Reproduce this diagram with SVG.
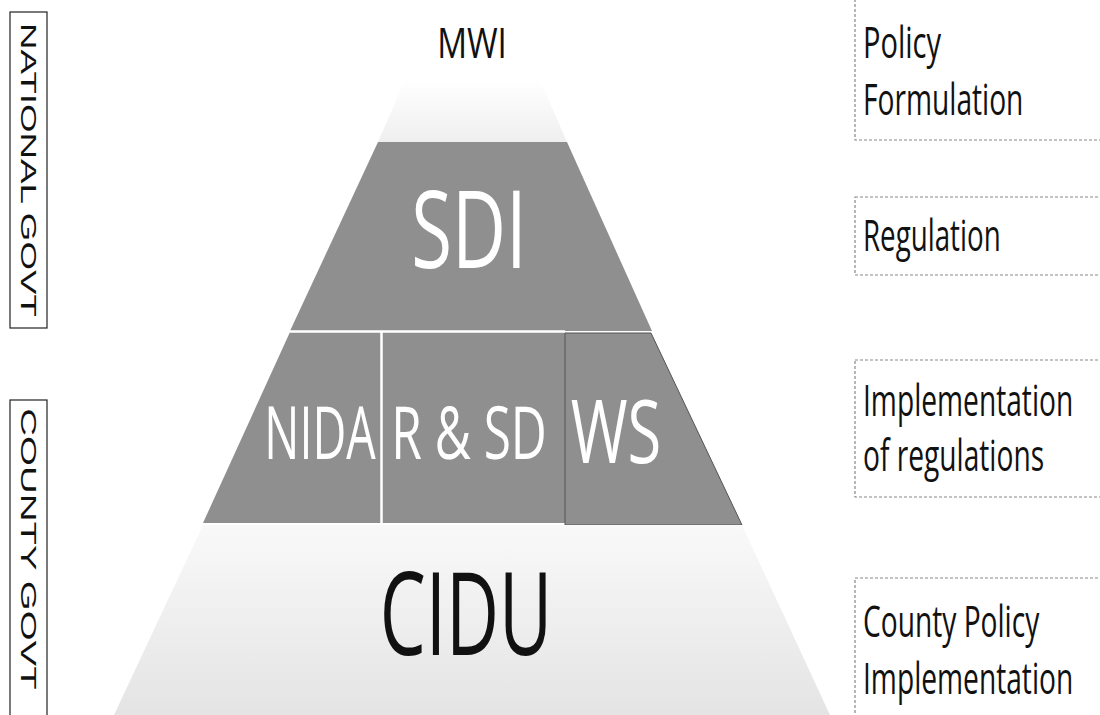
<svg xmlns="http://www.w3.org/2000/svg" width="1100" height="715" viewBox="0 0 1100 715">
<style>
.lbl{font-family:"Open Sans",Lato,sans-serif;fill:#111}
.wt{font-family:"Open Sans",Lato,sans-serif;fill:#fff}
.gov{font-family:"Liberation Sans",Arial,sans-serif;font-size:22px;fill:#111}
.role{font-family:"Open Sans",Lato,sans-serif;font-size:44px;fill:#111}
.dash{fill:none;stroke:#888;stroke-width:1.2;stroke-dasharray:3 2}
.solid{fill:none;stroke:#222;stroke-width:1.2}
.blk{fill:#8f8f8f}
</style>
<defs>
<linearGradient id="top" x1="0" y1="0" x2="0" y2="1">
<stop offset="0" stop-color="#ffffff"/>
<stop offset="1" stop-color="#efefef"/>
</linearGradient>
<linearGradient id="bot" x1="0" y1="0" x2="0" y2="1">
<stop offset="0" stop-color="#f9f9f9"/>
<stop offset="1" stop-color="#e4e4e4"/>
</linearGradient>
</defs>
<rect width="1100" height="715" fill="#fff"/>

<g id="gov-national">
<rect class="solid" x="10" y="12" width="37" height="316"/>
<text class="gov" transform="translate(21,170) rotate(90) scale(1.67,1)" text-anchor="middle">NATIONAL GOVT</text>
</g>
<g id="gov-county">
<rect class="solid" x="10" y="400" width="37" height="320"/>
<text class="gov" transform="translate(21,549) rotate(90) scale(1.75,1)" text-anchor="middle">COUNTY GOVT</text>
</g>

<g id="mwi">
<polygon points="405,80 540,80 567,142 378,142" fill="url(#top)"/>
<text class="lbl" transform="translate(472,58) scale(0.79,1)" font-size="42" text-anchor="middle">MWI</text>
</g>

<g id="sdi">
<polygon class="blk" points="378,142 567,142 652,331 290,331"/>
<text class="wt" transform="translate(469,268) scale(0.69,1)" font-size="108" text-anchor="middle">SDI</text>
</g>

<g id="nida">
<polygon class="blk" points="290,332 381,332 381,523 203,523"/>
<text class="wt" transform="translate(320,459) scale(0.63,1)" font-size="74" text-anchor="middle">NIDA</text>
</g>
<g id="rsd">
<rect class="blk" x="381" y="332" width="184" height="191"/>
<text class="wt" transform="translate(469,459) scale(0.67,1)" font-size="74" text-anchor="middle">R &amp; SD</text>
</g>
<g id="ws">
<polygon class="blk" points="565,333 651,333 742,525 565,525" stroke="#555" stroke-width="1"/>
<text class="wt" transform="translate(616,463) scale(0.70,1)" font-size="88" text-anchor="middle">WS</text>
</g>

<g id="dividers">
<line x1="290" y1="331.5" x2="565" y2="331.5" stroke="#fff" stroke-width="2.5"/>
<line x1="381.5" y1="331" x2="381.5" y2="523" stroke="#fff" stroke-width="2.5"/>
</g>

<g id="cidu">
<polygon points="203,525 742,525 830,715 114,715" fill="url(#bot)"/>
<text class="lbl" transform="translate(466,655) scale(0.63,1)" font-size="116" text-anchor="middle">CIDU</text>
</g>

<g id="role-policy">
<rect class="dash" x="855" y="-2" width="260" height="142"/>
<text class="role" transform="translate(863,58) scale(0.66,1)">Policy</text>
<text class="role" transform="translate(863,115) scale(0.64,1)">Formulation</text>
</g>
<g id="role-regulation">
<rect class="dash" x="855" y="197" width="260" height="78"/>
<text class="role" transform="translate(863,251) scale(0.63,1)">Regulation</text>
</g>
<g id="role-implementation">
<rect class="dash" x="855" y="360" width="260" height="137"/>
<text class="role" transform="translate(863,416) scale(0.64,1)">Implementation</text>
<text class="role" transform="translate(863,471) scale(0.64,1)">of regulations</text>
</g>
<g id="role-county">
<rect class="dash" x="855" y="578" width="260" height="150"/>
<text class="role" transform="translate(863,637) scale(0.64,1)">County Policy</text>
<text class="role" transform="translate(863,694) scale(0.64,1)">Implementation</text>
</g>
</svg>
